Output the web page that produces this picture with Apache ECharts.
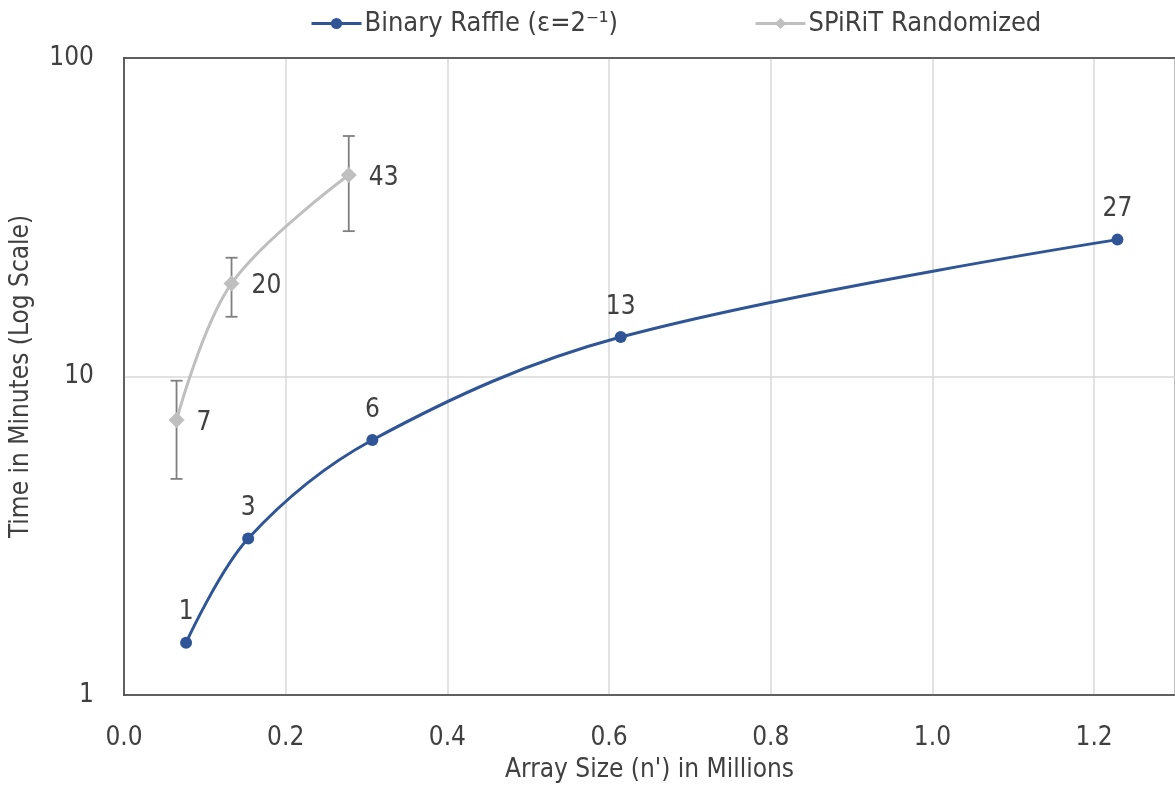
<!DOCTYPE html>
<html>
<head>
<meta charset="utf-8">
<script src="https://cdn.jsdelivr.net/npm/echarts@6/dist/echarts.min.js"></script>
<style>
  html, body { margin: 0; padding: 0; background: #fff; }
  #chart { width: 1175px; height: 792px; }
</style>
</head>
<body>
<div id="chart"></div>
<script>
// Array size (millions) and run time (minutes)
const raffleSizes = [0.0768, 0.1536, 0.3072, 0.6144, 1.2288];
const raffleTimes = [1.46, 3.10, 6.32, 13.3, 26.9];

const spiritSizes = [0.065, 0.133, 0.278];
const spiritTimes = [7.30, 19.6, 42.9];
const spiritLow   = [4.77, 15.4, 28.6];
const spiritHigh  = [9.70, 23.6, 56.9];

const xTicks = [0, 0.2, 0.4, 0.6, 0.8, 1.0, 1.2];

const RAFFLE = 'Binary Raffle (ε=2⁻¹)';
const SPIRIT = 'SPiRiT Randomized';

const FONT = "'Liberation Sans Narrow', 'DejaVu Sans Condensed', 'Liberation Sans', sans-serif";
const TEXT = '#404040';
const BLUE = '#2f5597';
const GRAY = '#bfbfbf';
const BAR = '#7f7f7f';
const AXIS = '#404040';

const raffleData = raffleSizes.map((x, i) => [x, raffleTimes[i]]);
const spiritData = spiritSizes.map((x, i) => [x, spiritTimes[i]]);
const errorData = spiritSizes.map((x, i) => [x, spiritLow[i], spiritHigh[i]]);

const legendBase = {
  top: 5,
  itemWidth: 50,
  itemHeight: 14,
  itemGap: 0,
  lineStyle: { width: 3 },
  textStyle: { fontFamily: FONT, fontSize: 27, color: TEXT, padding: [0, 0, 0, -2] }
};

const chart = echarts.init(document.getElementById('chart'), null, { renderer: 'canvas' });

chart.setOption({
  animation: false,
  backgroundColor: '#fff',
  textStyle: { fontFamily: FONT, color: TEXT },
  legend: [
    Object.assign({}, legendBase, { left: 305, data: [RAFFLE] }),
    Object.assign({}, legendBase, { left: 749, data: [SPIRIT] })
  ],
  grid: {
    left: 122, top: 58, width: 1056, height: 637,
    show: true, borderColor: AXIS, borderWidth: 1.5,
    containLabel: false
  },
  xAxis: [
    {
      type: 'value',
      min: 0, max: 1.3, interval: 0.2,
      name: "Array Size (n') in Millions",
      nameLocation: 'middle',
      nameGap: 62,
      nameTextStyle: { fontFamily: FONT, fontSize: 26, color: TEXT },
      axisLine: { show: true, lineStyle: { color: AXIS, width: 1.5 } },
      axisTick: { show: false },
      splitLine: { show: true, lineStyle: { color: '#d9d9d9', width: 1.5 } },
      axisLabel: {
        showMaxLabel: false,
        margin: 30,
        fontFamily: FONT, fontSize: 26, color: TEXT,
        formatter: v => xTicks.some(t => Math.abs(t - v) < 1e-9) ? v.toFixed(1) : ''
      }
    },
    {
      // top frame edge of the plot area
      type: 'value',
      position: 'top',
      min: 0, max: 1.3,
      axisLine: { show: true, onZero: false, lineStyle: { color: AXIS, width: 1.5 } },
      axisTick: { show: false },
      axisLabel: { show: false },
      splitLine: { show: false }
    }
  ],
  yAxis: {
    type: 'log', logBase: 10, min: 1, max: 100,
    name: 'Time in Minutes (Log Scale)',
    nameLocation: 'middle',
    nameGap: 90,
    nameTextStyle: { fontFamily: FONT, fontSize: 26, color: TEXT },
    axisLine: { show: true, lineStyle: { color: AXIS, width: 1.5 } },
    axisTick: { show: false },
    minorTick: { show: false },
    splitLine: { show: true, lineStyle: { color: '#d9d9d9', width: 1.5 } },
    axisLabel: { margin: 30, fontFamily: FONT, fontSize: 26, color: TEXT }
  },
  series: [
    {
      name: RAFFLE,
      type: 'line',
      smooth: 0.35,
      data: raffleData,
      symbol: 'circle',
      symbolSize: 12,
      lineStyle: { color: BLUE, width: 3 },
      itemStyle: { color: BLUE },
      label: {
        show: true, position: 'top', distance: 11,
        fontFamily: FONT, fontSize: 26, color: TEXT,
        formatter: p => Math.round(p.value[1])
      },
      z: 3
    },
    {
      name: SPIRIT,
      type: 'line',
      smooth: 0.35,
      data: spiritData,
      symbol: 'diamond',
      symbolSize: 16,
      lineStyle: { color: GRAY, width: 3 },
      itemStyle: { color: GRAY },
      label: {
        show: true, position: 'right', distance: 12, offset: [0, 3],
        fontFamily: FONT, fontSize: 26, color: TEXT,
        formatter: p => Math.round(p.value[1])
      },
      z: 3
    },
    {
      name: 'SPiRiT error',
      type: 'custom',
      data: errorData,
      encode: { x: 0, y: [1, 2] },
      z: 2,
      silent: true,
      renderItem: (params, api) => {
        const lo = api.coord([api.value(0), api.value(1)]);
        const hi = api.coord([api.value(0), api.value(2)]);
        const half = 6;
        const style = { stroke: BAR, lineWidth: 1.8 };
        return {
          type: 'group',
          children: [
            { type: 'line', shape: { x1: lo[0], y1: lo[1], x2: hi[0], y2: hi[1] }, style },
            { type: 'line', shape: { x1: lo[0] - half, y1: lo[1], x2: lo[0] + half, y2: lo[1] }, style },
            { type: 'line', shape: { x1: hi[0] - half, y1: hi[1], x2: hi[0] + half, y2: hi[1] }, style }
          ]
        };
      }
    }
  ]
});
</script>
</body>
</html>
